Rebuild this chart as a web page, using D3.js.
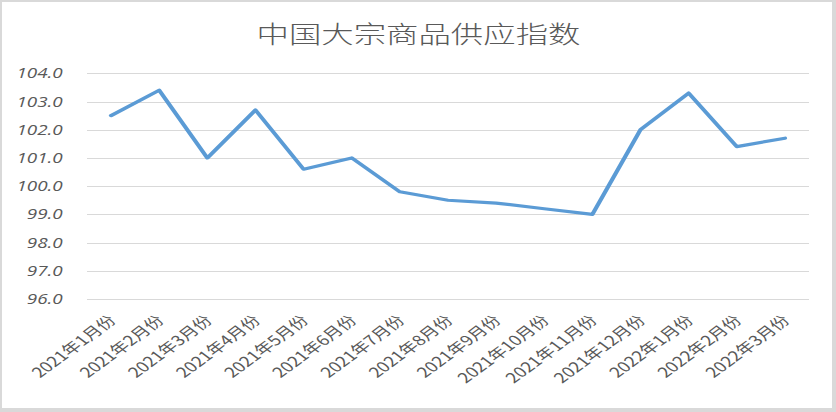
<!DOCTYPE html>
<html>
<head>
<meta charset="utf-8">
<script src="https://cdn.jsdelivr.net/npm/d3@7"></script>
<style>
  html, body { margin: 0; padding: 0; background: #d9d9d9; }
  svg { display: block; }
</style>
</head>
<body>
<svg id="chart" width="836" height="412"></svg>
<script>
const title = "中国大宗商品供应指数";
const categories = ["2021年1月份","2021年2月份","2021年3月份","2021年4月份","2021年5月份","2021年6月份","2021年7月份","2021年8月份","2021年9月份","2021年10月份","2021年11月份","2021年12月份","2022年1月份","2022年2月份","2022年3月份"];
const values = [102.5, 103.4, 101.0, 102.7, 100.6, 101.0, 99.8, 99.5, 99.4, 99.2, 99.0, 102.0, 103.3, 101.4, 101.7];
const yTicks = [96, 97, 98, 99, 100, 101, 102, 103, 104];

// The reference is horizontally stretched; emulate via non-uniform viewBox
const W = 836, H = 412, K = 1.35;
const VW = W / K;
const svg = d3.select("#chart")
  .attr("viewBox", `0 0 ${VW} ${H}`)
  .attr("preserveAspectRatio", "none");

svg.append("rect")
  .attr("x", 2 / K).attr("y", 2)
  .attr("width", 830 / K).attr("height", 406)
  .attr("fill", "#ffffff");

const x0 = 87 / K, x1 = 809 / K;
const x = d3.scaleBand().domain(categories).range([x0, x1]);
const y = d3.scaleLinear().domain([96, 104]).range([299, 73.3]);

// gridlines
svg.append("g").selectAll("line").data(yTicks).join("line")
  .attr("x1", x0).attr("x2", x1)
  .attr("y1", d => Math.round(y(d)) + 0.5).attr("y2", d => Math.round(y(d)) + 0.5)
  .attr("stroke", "#d9d9d9").attr("stroke-width", 1)
  .attr("vector-effect", "non-scaling-stroke");

// y labels
svg.append("g").selectAll("text").data(yTicks).join("text")
  .attr("x", 46.5)
  .attr("y", d => y(d))
  .attr("dy", "0.36em")
  .attr("text-anchor", "end")
  .attr("font-family", "'Open Sans', 'Liberation Sans', sans-serif")
  .attr("font-style", "italic")
  .attr("font-size", 14)
  .attr("fill", "#595959")
  .text(d => d.toFixed(1));

// x labels
svg.append("g").selectAll("text").data(categories).join("text")
  .attr("transform", d => `translate(${x(d) + x.bandwidth() / 2 + 1},318) rotate(-45)`)
  .attr("dy", "0.35em")
  .attr("text-anchor", "end")
  .attr("font-family", "'Noto Sans CJK SC', sans-serif")
  .attr("font-size", 14)
  .attr("fill", "#595959")
  .text(d => d);

// line
const line = d3.line()
  .x((d, i) => x(categories[i]) + x.bandwidth() / 2)
  .y(d => y(d));
svg.append("path")
  .datum(values)
  .attr("d", line)
  .attr("fill", "none")
  .attr("stroke", "#5b9bd5")
  .attr("stroke-width", 3.2)
  .attr("stroke-linejoin", "round")
  .attr("stroke-linecap", "round");

// title
svg.append("text")
  .attr("x", 418.5 / K)
  .attr("y", 43)
  .attr("text-anchor", "middle")
  .attr("font-family", "'Noto Sans CJK SC', sans-serif")
  .attr("font-size", 24)
  .attr("font-weight", 300)
  .attr("fill", "#595959")
  .text(title);
</script>
</body>
</html>
